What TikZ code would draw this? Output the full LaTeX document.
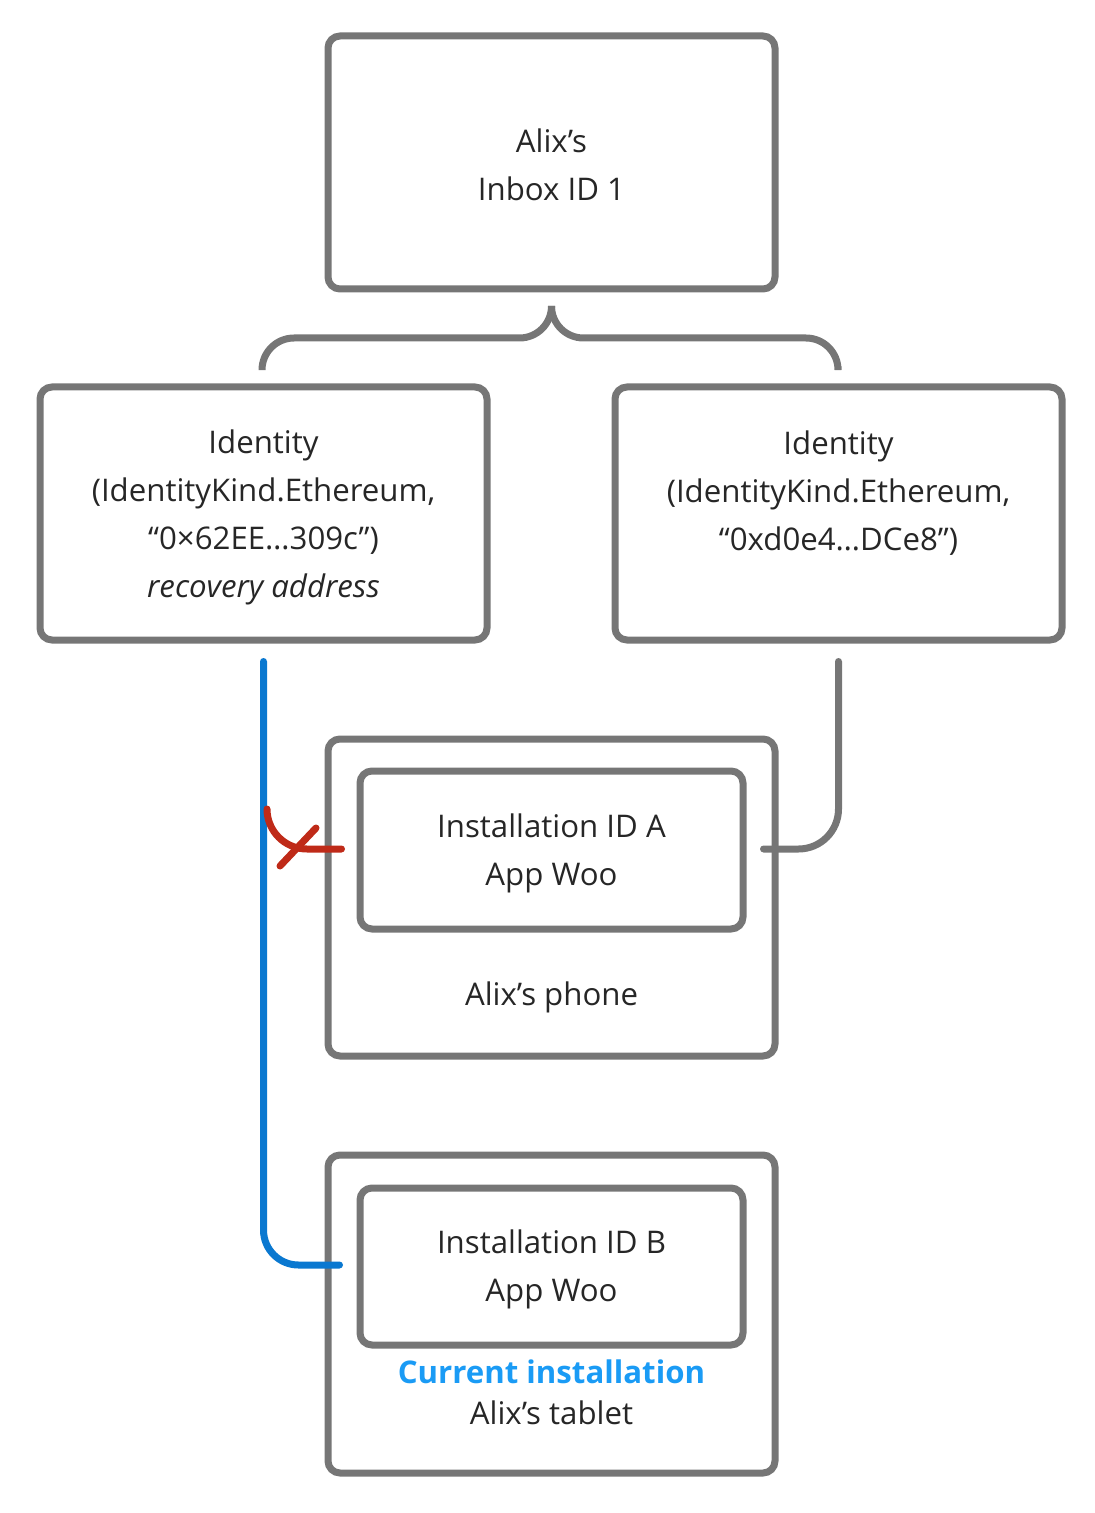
\documentclass[tikz,border=0pt]{standalone}
\usepackage{fontspec}
\setmainfont{Open Sans}
\usetikzlibrary{calc}
\definecolor{gr}{HTML}{767676}
\definecolor{tx}{HTML}{262626}
\definecolor{bl}{HTML}{0A78D0}
\definecolor{rd}{HTML}{BF2A18}
\definecolor{cb}{HTML}{1A9BF5}
\begin{document}
\begin{tikzpicture}[x=0.5pt,y=-0.5pt,
  box/.style={draw=gr,line width=3.5pt,rounded corners=6pt,inner sep=0pt},
  conn/.style={draw=gr,line width=3.5pt,line cap=round},
  txt/.style={text=tx,align=center,font=\fontsize{15.6pt}{24pt}\selectfont,inner sep=0pt}]
\useasboundingbox (0,0) rectangle (1095,1513);
% boxes
\node[box,minimum width=223.5pt,minimum height=126.5pt] (inbox) at (551.5,162.5) {};
\node[box,minimum width=223.5pt,minimum height=126.5pt] (lid) at (263.5,513.5) {};
\node[box,minimum width=223.5pt,minimum height=126.5pt] (rid) at (838.5,513.5) {};
\node[box,minimum width=223.5pt,minimum height=158.5pt] (phone) at (551.5,897.5) {};
\node[box,minimum width=191.5pt,minimum height=79pt] (instA) at (551.5,850) {};
\node[box,minimum width=223.5pt,minimum height=159pt] (tablet) at (551.5,1314) {};
\node[box,minimum width=191.5pt,minimum height=78.5pt] (instB) at (551.5,1266.5) {};
% texts
\node[txt] (tinbox) at (551.5,165) {Alix’s\\Inbox ID 1};
\node[txt] (tlid) at (263.5,517) {Identity\\(IdentityKind.Ethereum,\\“0×62EE…309c”)\\\textit{recovery address}};
\node[txt] (trid) at (838.5,493) {Identity\\(IdentityKind.Ethereum,\\“0xd0e4…DCe8”)};
\node[txt] (tinstA) at (551.5,853) {Installation ID A\\App Woo};
\node[txt] (tphone) at (551.5,997) {Alix’s phone};
\node[txt] (tinstB) at (551.5,1269) {Installation ID B\\App Woo};
\node[txt,text=cb,font=\fontsize{15.6pt}{24pt}\selectfont\bfseries] (tcur) at (551.5,1372) {Current installation};
\node[txt] (ttab) at (551.5,1413) {Alix’s tablet};
% connector coordinates
\coordinate (tip) at ($(inbox.south)+(0,16)$);
\coordinate (bl) at ($(lid.north)+(-1.5,-17)$);
\coordinate (br) at ($(rid.north)+(-0.5,-17)$);
\coordinate (blueS) at ($(lid.south)+(0,18)$);
\coordinate (blueE) at ($(instB.west)+(-17,-1.5)$);
\coordinate (redS) at (267,809);
\coordinate (redE) at ($(instA.west)+(-15,-1)$);
\coordinate (grS) at ($(rid.south)+(0,18)$);
\coordinate (grE) at ($(instA.east)+(17,-1)$);
\coordinate (x1) at (280,866);
\coordinate (x2) at (316,828);
% brace
\draw[conn,rounded corners=16pt] (bl) -- (bl |- 0,338) -- (tip |- 0,338) -- (tip);
\draw[conn,rounded corners=16pt] (br) -- (br |- 0,338) -- (tip |- 0,338) -- (tip);
% right gray connector
\draw[conn,rounded corners=20pt] (grS) -- (grS |- grE) -- (grE);
% blue connector
\draw[conn,draw=bl,rounded corners=17.5pt] (blueS) -- (blueS |- blueE) -- (blueE);
% red connector
\draw[conn,draw=rd,rounded corners=20pt] (redS) -- (redS |- redE) -- (redE);
\draw[conn,draw=rd] (x1) -- (x2);
\end{tikzpicture}
\end{document}
